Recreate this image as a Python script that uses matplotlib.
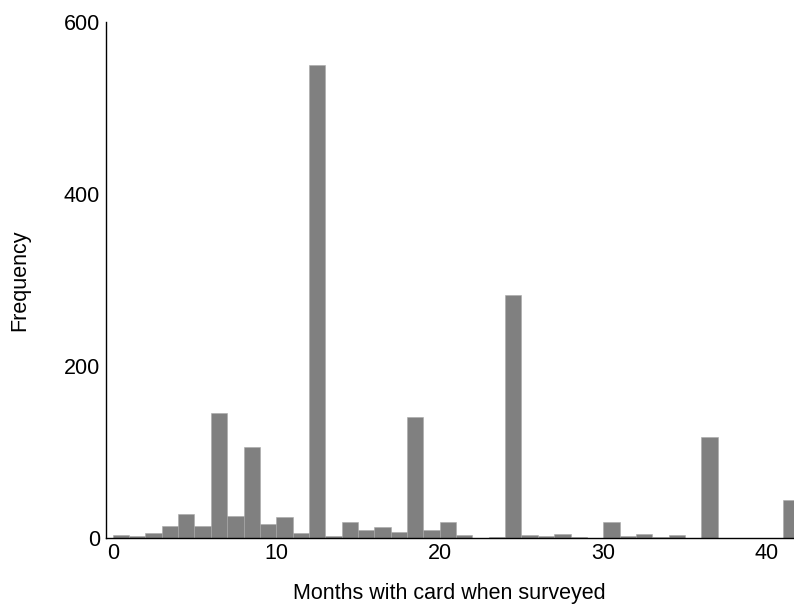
import matplotlib
matplotlib.use('Agg')
import matplotlib.pyplot as plt

# months with card (left edge of each 1-month bin) and counts
months = list(range(42))
counts = [3, 2, 5, 14, 28, 14, 145, 25, 106, 16,
          24, 5, 550, 2, 18, 9, 12, 7, 141, 9,
          18, 3, 0, 1, 282, 3, 2, 4, 1, 0,
          18, 2, 4, 1, 3, 0, 117, 0, 0, 0,
          0, 44]
y_ticks = [0, 200, 400, 600]
x_ticks = [0, 10, 20, 30, 40]

plt.rcParams['font.family'] = ['Liberation Sans', 'DejaVu Sans']

fig = plt.figure(figsize=(7.94, 6.06), dpi=100)
ax = fig.add_axes([0.1331, 0.1127, 0.8669, 0.8510])

ax.bar(months, counts, width=1.0, align='edge', color='#808080',
       edgecolor='#a8a8a8', linewidth=0.4)

ax.set_xlim(-0.43, 41.67)
ax.set_ylim(0, 600)
ax.set_xticks(x_ticks)
ax.set_yticks(y_ticks)
ax.tick_params(length=0, labelsize=15.5, pad=4)

ax.spines['top'].set_visible(False)
ax.spines['right'].set_visible(False)
for s in ['left', 'bottom']:
    ax.spines[s].set_linewidth(1.0)
    ax.spines[s].set_color('black')

fig.text(0.5655, 1 - 593 / 606, 'Months with card when surveyed',
         ha='center', va='center', fontsize=15.5)
fig.text(20 / 794, 1 - 280 / 606, 'Frequency', rotation=90,
         ha='center', va='center', fontsize=15.5)

fig.savefig('out.png', dpi=100)
